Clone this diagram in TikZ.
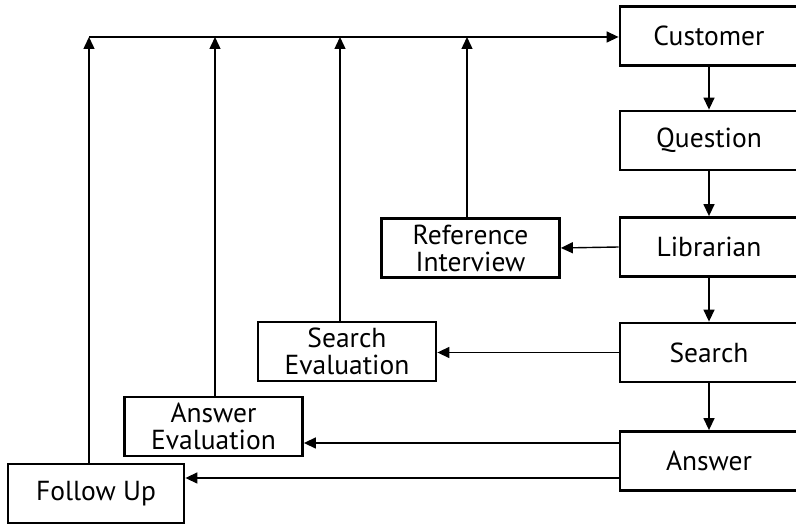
\documentclass[tikz,border=0pt]{standalone}
\usepackage{fontspec}
\setmainfont{PT Sans}
\usetikzlibrary{arrows.meta}

\begin{document}
\begin{tikzpicture}[x=1pt,y=-1pt,
  box/.style={draw=black,line width=2.8pt,minimum width=178pt,minimum height=59pt,
    inner sep=0pt,align=center,font=\fontsize{27.5}{27}\selectfont},
  link/.style={line width=1.4pt,-{Triangle[length=12pt,width=11pt]}}]
\useasboundingbox (0,0) rectangle (796,526);
\node [box] (cu) at (709,36) {Customer};
\node [box] (qu) at (709,140.5) {Question};
\node [box] (li) at (709,247) {Librarian};
\node [box] (se) at (709,352.5) {Search};
\node [box] (an) at (709,461) {Answer};
\node [box] (ri) at (470.5,248) {Reference\\Interview};
\node [box] (sv) at (347,351.5) {Search\\Evaluation};
\node [box] (av) at (213.5,426.5) {Answer\\Evaluation};
\node [box,minimum width=176pt] (fu) at (96,493.5) {Follow Up};
\coordinate (top) at (89,37);
% down the right column
\draw [link] (cu) -- (qu);
\draw [link] (qu) -- (li);
\draw [link] (li) -- (se);
\draw [link] (se) -- (an);
% out to the left
\draw [link] (li.west) -- (ri.east);
\draw [link] (se.west) -- (se.west -| sv.east);
\draw [link] ([yshift=18pt]an.west) -- ([yshift=18pt]an.west -| av.east);
\draw [link] ([yshift=-17pt]an.west) -- ([yshift=-17pt]an.west -| fu.east);
% back up to the customer
\draw [link] (top) -- (top -| cu.west);
\draw [link] ([xshift=-3.5pt]ri.north) -- ([xshift=-3.5pt]ri.north |- top);
\draw [link] ([xshift=-7pt]sv.north) -- ([xshift=-7pt]sv.north |- top);
\draw [link] ([xshift=1.5pt]av.north) -- ([xshift=1.5pt]av.north |- top);
\draw [link] ([xshift=-7pt]fu.north) -- ([xshift=-7pt]fu.north |- top);
\end{tikzpicture}
\end{document}
